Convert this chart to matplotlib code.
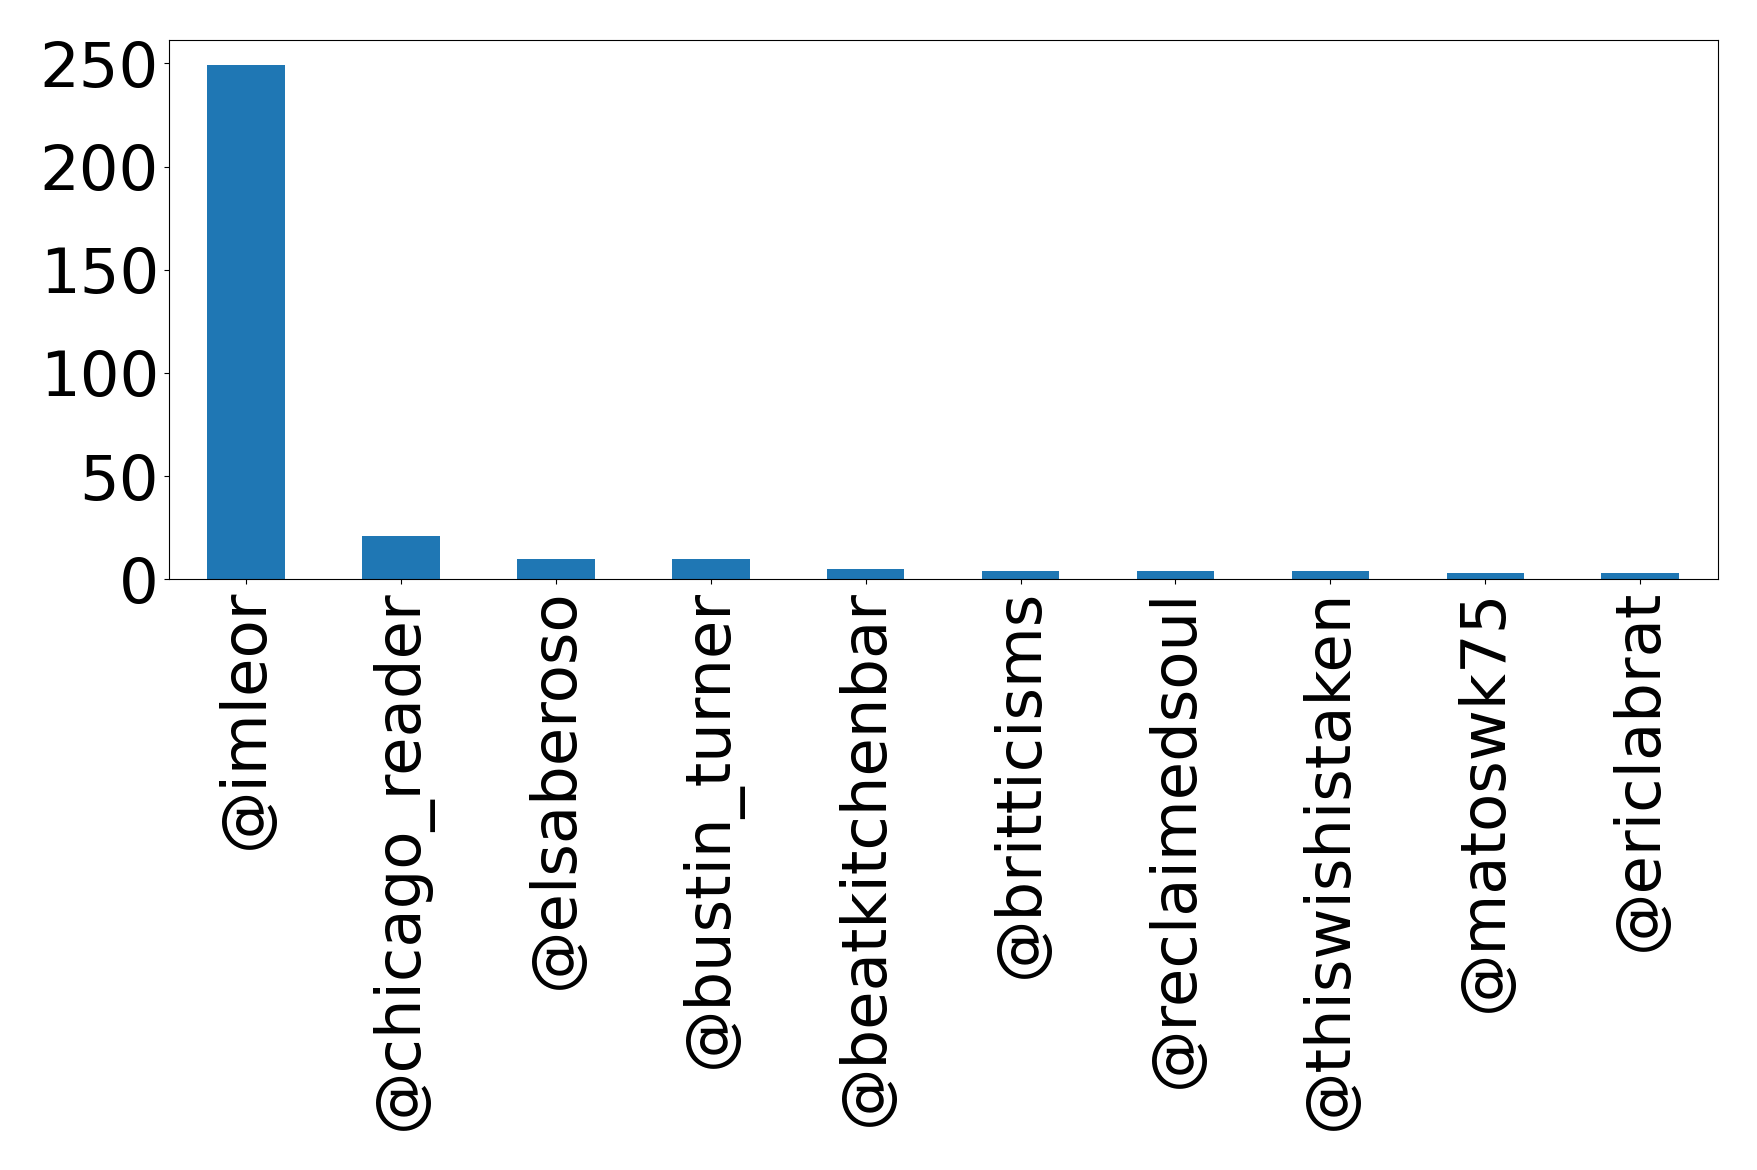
import numpy as np
import matplotlib.pyplot as plt

users = ["@imleor", "@chicago_reader", "@elsaberoso", "@bustin_turner",
         "@beatkitchenbar", "@britticisms", "@reclaimedsoul",
         "@thiswishistaken", "@matoswk75", "@ericlabrat"]
counts = [249, 21, 10, 10, 5, 4, 4, 4, 3, 3]

fig = plt.figure(figsize=(17.58, 11.7), dpi=100)
ax = fig.add_axes([0.096, 0.505, 0.881, 0.461])
x = np.arange(len(users))
ax.bar(x, counts, width=0.5, color="#1f77b4")
ax.set_xlim(-0.5, len(users) - 0.5)
ax.set_ylim(0, max(counts) * 1.05)
ax.set_yticks(np.arange(0, 251, 50))
ax.set_xticks(x)
ax.set_xticklabels(users, rotation=90)
ax.tick_params(labelsize=45)
fig.savefig("out.png", dpi=100)
